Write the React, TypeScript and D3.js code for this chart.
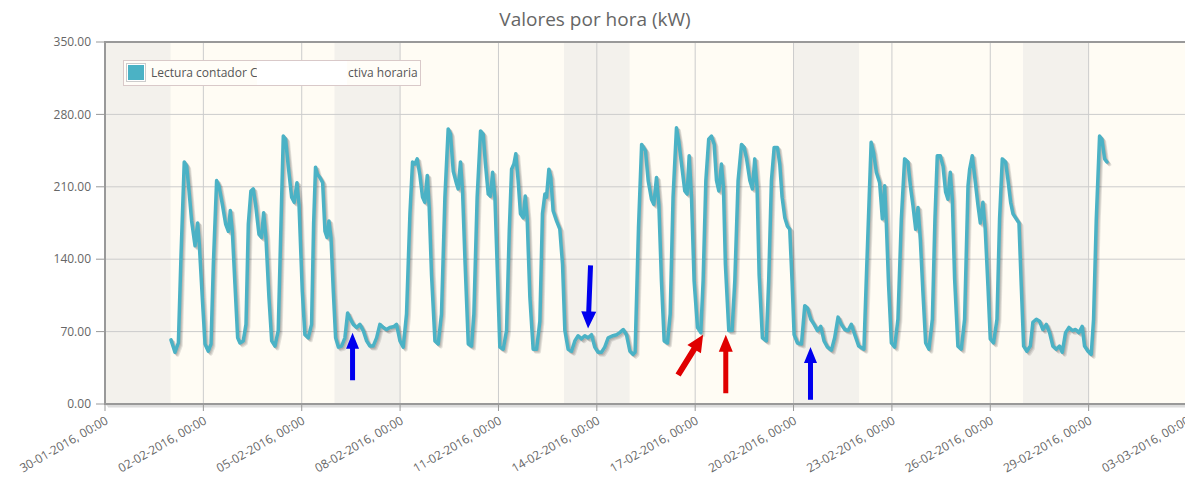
import React from 'react';
import * as d3 from 'd3';

const TITLE = 'Valores por hora (kW)';
const LEGEND_LEFT = 'Lectura contador C';
const LEGEND_RIGHT = 'ctiva horaria';
const X_TICKS = ['30-01-2016', '02-02-2016', '05-02-2016', '08-02-2016', '11-02-2016', '14-02-2016', '17-02-2016', '20-02-2016', '23-02-2016', '26-02-2016', '29-02-2016', '03-03-2016'];
const Y_TICKS = [0, 70, 140, 210, 280, 350];
const WEEKENDS = ['30-01-2016', '06-02-2016', '13-02-2016', '20-02-2016', '27-02-2016'];
const SERIES_START = '01-02-2016';

// [hours since 01-02-2016 00:00, kW]
const week1: [number, number][] = [
  [0.3, 62], [3.2, 50], [5.7, 59], [7.6, 142], [10, 234], [11.8, 230], [13.5, 206], [15.4, 177], [17.9, 153], [19.8, 175], [21, 155], [23.2, 103], [25.2, 58], [27.6, 51],
  [29.6, 58], [31.3, 135], [33.7, 216], [35.4, 211], [37.9, 193], [40.3, 174], [42.3, 167], [43.7, 187], [45.2, 167], [47.1, 116], [49.1, 64], [50.8, 59], [53.2, 61],
  [55.2, 77], [56.9, 174], [58.8, 206], [60.5, 208], [62.2, 193], [64.7, 164], [66.6, 161], [68.1, 185], [69.8, 161], [72, 103], [74, 61], [76.4, 56],
  [78.8, 71], [80.8, 174], [82.5, 259], [84.2, 256], [86.2, 229], [88.6, 200], [90.5, 195], [92.5, 214], [94, 193], [96.4, 109], [98.3, 67], [100.8, 64],
  [103.2, 77], [104.7, 174], [106.1, 229], [107.6, 222], [109.3, 219], [111.3, 214], [113, 167], [114.5, 161], [115.9, 177], [117.4, 161], [119.1, 109], [120.8, 64], [122.8, 55], [125.2, 56],
  [127.6, 64], [129.6, 88], [131.3, 83], [133.7, 77], [136.2, 74], [138.6, 77], [141, 71], [143.5, 61], [145.9, 56], [148.3, 56], [150.8, 64], [153.2, 77], [155.7, 74], [158.1, 72], [160.5, 74], [163.7, 75], [165.4, 77], [167.9, 61],
];
const week2: [number, number][] = [
  [170.3, 55], [172.7, 87], [175.2, 184], [177.1, 234], [178.8, 232], [180.5, 237], [182.5, 221], [184.4, 200], [186.1, 195], [187.9, 221], [189.3, 190], [191, 125], [193.5, 61], [195.9, 58],
  [198.3, 87], [200.8, 200], [203.2, 266], [204.9, 261], [206.9, 225], [209.3, 213], [210.5, 208], [212.2, 234], [213.7, 206], [215.6, 135], [217.9, 58], [220.3, 56],
  [222, 87], [224.4, 200], [226.9, 264], [228.8, 261], [230.5, 232], [232.5, 203], [234.2, 201], [235.7, 224], [237.4, 200], [239.1, 132], [241, 55], [243.5, 53],
  [245.9, 71], [247.9, 167], [249.6, 227], [251.3, 232], [252.7, 242], [254.4, 216], [256.1, 184], [258.1, 180], [259.6, 201], [261, 180], [263, 103], [265.4, 53], [267.9, 53],
  [270.3, 80], [272.2, 184], [274, 203], [275.2, 200], [276.9, 227], [278.3, 219], [280, 187], [282.5, 177], [284.9, 169], [286.9, 135], [288.6, 71], [291, 53], [293.5, 51],
  [295.9, 61], [298.3, 66], [300.8, 63], [303.2, 66], [305.6, 64], [308.1, 67], [310.5, 55], [312.9, 50], [315.4, 50], [317.8, 55], [320.3, 64], [323.9, 66], [326.4, 67], [328.8, 69], [331.3, 72], [333.7, 67], [336.2, 51],
];
const week3: [number, number][] = [
  [338.6, 48], [340, 50], [342.5, 170], [344.8, 251], [347.6, 245], [349.6, 216], [352, 198], [353.7, 193], [355.7, 219], [357.4, 193], [359.3, 119], [361.3, 61], [363.7, 59],
  [365.7, 87], [367.8, 200], [370.3, 267], [372, 254], [374, 232], [376.4, 206], [378.1, 203], [379.6, 240], [381.3, 200], [383.2, 119], [385.7, 74], [388.1, 69],
  [389.8, 119], [391.8, 216], [393.9, 256], [395.9, 259], [397.9, 251], [399.6, 216], [401.3, 206], [403.2, 232], [404.7, 209], [406.1, 135], [408.6, 71], [411, 71],
  [413, 119], [415.4, 216], [417.9, 251], [419.8, 248], [421.5, 238], [424, 216], [425.9, 208], [427.6, 237], [429.3, 209], [430.8, 125], [433.2, 64], [436.1, 61],
  [437.8, 119], [439.8, 216], [441.8, 248], [444.2, 248], [445.9, 232], [447.6, 200], [449.6, 180], [451.5, 172], [453.2, 169], [454.9, 119], [456.4, 67], [458.8, 59], [461.8, 58],
  [464.2, 95], [466.1, 93], [468.6, 82], [471, 77], [473.5, 71], [475.9, 75], [478.3, 61], [480.8, 55], [483.7, 52], [486.1, 64], [488.6, 84], [491, 77], [493.5, 72], [495.9, 71], [498.3, 77], [500.8, 67], [503.7, 56],
];
const week4: [number, number][] = [
  [507.5, 53], [509.5, 130], [512.8, 253], [514.6, 243], [516.6, 224], [519, 214], [521, 179], [522.7, 211], [523.9, 175], [525.6, 114], [527.6, 59], [530, 55],
  [532.4, 82], [534.9, 179], [537.3, 237], [539.7, 234], [541.5, 211], [543.4, 192], [545.4, 169], [547.1, 190], [548.8, 159], [550.7, 108], [552.7, 59], [555.1, 53],
  [557.6, 82], [559.5, 179], [561.2, 240], [563.4, 240], [565.4, 230], [567.3, 205], [569, 198], [570.7, 224], [572.2, 198], [573.9, 121], [576.3, 56], [578.8, 53],
  [581.2, 82], [583.7, 211], [584.9, 227], [586.8, 240], [588.5, 221], [591, 192], [592.7, 175], [594.6, 195], [596.3, 169], [598.3, 114], [600, 63], [602.4, 59],
  [604.9, 82], [606.8, 179], [608.8, 237], [611.2, 234], [612.9, 217], [614.9, 195], [616.6, 184], [619, 179], [621, 175], [622.7, 114], [624.4, 56], [626.8, 51],
  [629.3, 56], [631.2, 79], [633.7, 82], [636.1, 80], [638.5, 72], [641, 77], [643.4, 69], [645.8, 56], [648.3, 53], [650.7, 56], [652.7, 50], [655.1, 69], [657.6, 74], [660, 71], [662.4, 72], [664.9, 69], [667.3, 75], [669, 56], [671.5, 51], [673.9, 48],
];
const week5: [number, number][] = [
  [675.6, 82], [677.6, 179], [680, 259], [681.7, 256], [683.7, 237], [685.4, 234],
];

// annotation arrows: [hour, kW] of tail and tip
const ARROWS = [
  { color: '#0000ee', tail: [133.2, 23], tip: [133.2, 69], shaft: 5, headW: 13, headL: 16 },
  { color: '#0000ee', tail: [307.4, 134], tip: [305.6, 73], shaft: 5, headW: 15, headL: 17 },
  { color: '#e00000', tail: [371.5, 28], tip: [389.8, 67], shaft: 6, headW: 16, headL: 17 },
  { color: '#e00000', tail: [406.4, 10.5], tip: [406.4, 67], shaft: 5, headW: 14, headL: 17 },
  { color: '#0000ee', tail: [468.4, 4], tip: [468.4, 55], shaft: 5, headW: 13, headL: 16 },
];

const W = 1185, H = 485;
const M = { left: 105, top: 42, right: 1187, bottom: 404 };
const FONT = "'Open Sans', 'DejaVu Sans', sans-serif";

const parseD = (s: string) => {
  const [d, m, y] = s.split('-').map(Number);
  return new Date(y, m - 1, d);
};

export default function App() {
  const x = d3.scaleTime().domain([parseD(X_TICKS[0]), parseD(X_TICKS[X_TICKS.length - 1])]).range([M.left, M.right]);
  const y = d3.scaleLinear().domain([0, 350]).range([M.bottom, M.top]);
  const start = parseD(SERIES_START);
  const hx = (h: number) => x(d3.timeMinute.offset(start, Math.round(h * 60)));
  const data = [...week1, ...week2, ...week3, ...week4, ...week5];
  const line = d3.line<[number, number]>().x(d => hx(d[0])).y(d => y(d[1]));
  const path = line(data) || '';

  const arrowPath = (a: typeof ARROWS[number]) => {
    const x1 = hx(a.tail[0]), y1 = y(a.tail[1]), x2 = hx(a.tip[0]), y2 = y(a.tip[1]);
    const len = Math.hypot(x2 - x1, y2 - y1);
    const ux = (x2 - x1) / len, uy = (y2 - y1) / len;
    const px = -uy, py = ux;
    const nx = x2 - ux * a.headL, ny = y2 - uy * a.headL;
    const s = a.shaft / 2, hw = a.headW / 2;
    const pts = [
      [x1 + px * s, y1 + py * s], [nx + px * s, ny + py * s], [nx + px * hw, ny + py * hw], [x2, y2],
      [nx - px * hw, ny - py * hw], [nx - px * s, ny - py * s], [x1 - px * s, y1 - py * s],
    ];
    return 'M' + pts.map(p => p[0].toFixed(2) + ',' + p[1].toFixed(2)).join('L') + 'Z';
  };

  return (
    <svg width={W} height={H} style={{ position: 'absolute', left: 0, top: 0, background: '#fff' }} fontFamily={FONT}>
      <text x={595} y={26} textAnchor="middle" fontSize={19} fill="#666">{TITLE}</text>
      {/* grid background */}
      <rect x={M.left} y={M.top} width={M.right - M.left} height={M.bottom - M.top} fill="#fffcf4" />
      {WEEKENDS.map(w => {
        const d0 = parseD(w);
        const x0 = x(d0), x1 = x(d3.timeDay.offset(d0, 2));
        return <rect key={w} x={x0} y={M.top} width={x1 - x0} height={M.bottom - M.top} fill="#f3f1ec" />;
      })}
      {/* grid lines */}
      {Y_TICKS.slice(1, -1).map(t => (
        <line key={'gy' + t} x1={M.left} x2={M.right} y1={y(t)} y2={y(t)} stroke="#cccccc" strokeWidth={1} />
      ))}
      {X_TICKS.slice(1, -1).map(t => (
        <line key={'gx' + t} x1={x(parseD(t))} x2={x(parseD(t))} y1={M.top} y2={M.bottom} stroke="#cccccc" strokeWidth={1} />
      ))}
      {/* border shadow */}
      {[1, 2, 3].map(i => (
        <path key={'bs' + i} d={`M${M.left + i},${M.bottom + i}H${M.right + i}`} stroke="rgba(0,0,0,0.07)" strokeWidth={2} fill="none" />
      ))}
      <rect x={M.left} y={M.top} width={M.right - M.left} height={M.bottom - M.top} fill="none" stroke="#999999" strokeWidth={2} />
      {/* ticks */}
      {Y_TICKS.map(t => (
        <g key={'yt' + t}>
          <line x1={M.left - 9} x2={M.left - 1} y1={y(t)} y2={y(t)} stroke="#999" strokeWidth={1} />
          <text x={91} y={y(t)} dy="0.35em" textAnchor="end" fontSize={12} fill="#666">{t.toFixed(2)}</text>
        </g>
      ))}
      {X_TICKS.map(t => {
        const tx = x(parseD(t));
        return (
          <g key={'xt' + t}>
            <line x1={tx} x2={tx} y1={M.bottom + 1} y2={M.bottom + 7} stroke="#999" strokeWidth={1} />
            <text transform={`translate(${tx + 4},${M.bottom + 19}) rotate(-30)`} textAnchor="end" fontSize={12} fill="#666">{t + ', 00:00'}</text>
          </g>
        );
      })}
      {/* series shadow */}
      {[1, 2, 3].map(i => (
        <path key={'ls' + i} d={path} transform={`translate(${i * 0.9},${i * 0.9})`} fill="none" stroke="rgba(0,0,0,0.1)" strokeWidth={3.5} strokeLinejoin="round" strokeLinecap="round" />
      ))}
      <path d={path} fill="none" stroke="#4bb2c5" strokeWidth={3.5} strokeLinejoin="round" strokeLinecap="round" />
      {/* arrows */}
      {ARROWS.map((a, i) => <path key={'ar' + i} d={arrowPath(a)} fill={a.color} />)}
      {/* legend */}
      <rect x={123.5} y={60.5} width={297} height={25} fill="#fffdf8" stroke="#d9c9c9" strokeWidth={1} />
      <rect x={126.5} y={63.5} width={19} height={18} fill="#ffffff" stroke="#cccccc" strokeWidth={1} />
      <rect x={128} y={65} width={16} height={15} fill="#4bb2c5" />
      <text x={151} y={77} fontSize={12} fill="#555">{LEGEND_LEFT}</text>
      <rect x={257} y={61} width={90} height={24} fill="#ffffff" />
      <text x={348} y={77} fontSize={12} fill="#555">{LEGEND_RIGHT}</text>
    </svg>
  );
}
